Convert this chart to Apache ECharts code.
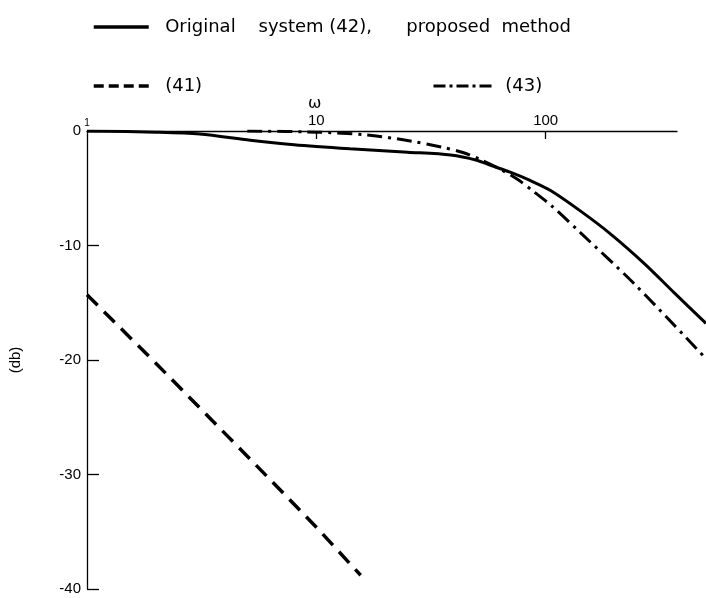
<!DOCTYPE html>
<html><head><meta charset="utf-8">
<script src="https://cdn.jsdelivr.net/npm/echarts@6/dist/echarts.min.js"></script>
<style>html,body{margin:0;padding:0;background:#fff}#c{width:706px;height:598px}</style>
</head><body><div id="c"></div>
<script>
// ---- data ----
const xTickValues = [1, 10, 100];
const xTickMarks = [10, 100];
const seriesNames = ['Original system (42), proposed method', '(41)', '(43)'];

const omegaOriginal = [1, 2, 3.1, 5.15, 8, 14, 25, 38.5, 50, 57.5, 70, 85, 105, 142, 192, 270, 362, 500];
const dbOriginal    = [0, -0.1, -0.26, -0.8, -1.2, -1.55, -1.85, -2.1, -2.55, -3.0, -3.6, -4.3, -5.2, -7.0, -9.0, -11.6, -14.1, -16.8];

const omega41 = [1, 2, 5, 10, 15.6];
const db41    = [-14.3, -20.3, -28.4, -34.6, -38.8];

const omega43 = [5, 10, 16.7, 25.7, 35, 43.9, 52, 61.5, 75, 88.8, 107, 142, 242, 485];
const db43    = [0, -0.1, -0.35, -0.87, -1.4, -1.9, -2.5, -3.2, -4.2, -5.3, -6.6, -8.9, -13.3, -19.6];

const pair = (xs, ys) => xs.map((x, i) => [x, ys[i]]);

const legendNameText = {};
legendNameText[seriesNames[0]] = '  Original    system (42),      proposed  method';
legendNameText[seriesNames[1]] = '  (41)';
legendNameText[seriesNames[2]] = ' (43)';

const black = '#000';
const tickFont = 'Liberation Sans';
const textFont = 'DejaVu Sans';
const legendBase = {
  padding: 0, itemHeight: 14, selectedMode: false,
  itemStyle: { opacity: 0, color: 'rgba(0,0,0,0)', borderColor: 'rgba(0,0,0,0)', borderWidth: 0 },
  formatter: n => legendNameText[n],
  textStyle: { color: black, fontSize: 18, fontFamily: textFont }
};

const chart = echarts.init(document.getElementById('c'), null, { renderer: 'canvas' });
chart.setOption({
  animation: false,
  backgroundColor: '#fff',
  title: {
    text: 'ω', left: 308, top: 96, padding: 0,
    textStyle: { color: black, fontSize: 16, fontWeight: 'normal', fontFamily: textFont }
  },
  legend: [
    Object.assign({}, legendBase, { data: [seriesNames[0]], left: 92, top: 18, itemWidth: 55,
      lineStyle: { width: 3.5 } }),
    Object.assign({}, legendBase, { data: [seriesNames[1]], left: 92, top: 77, itemWidth: 55,
      lineStyle: { type: [10, 5], width: 3.5 } }),
    Object.assign({}, legendBase, { data: [seriesNames[2]], left: 432, top: 77, itemWidth: 61,
      lineStyle: { type: [12, 4, 3, 4], width: 3 } })
  ],
  grid: [
    { left: 87, right: 0, top: 131, bottom: 9, containLabel: false },
    { left: 87, right: 29, top: 131, bottom: 9, containLabel: false }
  ],
  xAxis: [
    {
      gridIndex: 0, type: 'log', logBase: 10, min: 1, max: 500, position: 'top',
      axisLine: { show: false, onZero: false },
      axisTick: { show: true, inside: true, length: 8, customValues: xTickMarks,
        lineStyle: { color: black, width: 1.3 } },
      axisLabel: {
        customValues: xTickValues, margin: 3, color: black, fontFamily: tickFont, fontSize: 15,
        formatter: v => { const r = Math.round(v); return r === 1 ? '{s|1}' : String(r); },
        rich: { s: { fontSize: 10, fontFamily: tickFont, color: black } }
      },
      splitLine: { show: false }
    },
    {
      gridIndex: 1, type: 'log', logBase: 10, min: 1, max: 374, position: 'top',
      axisLine: { show: true, onZero: false, lineStyle: { color: black, width: 1.3 } },
      axisTick: { show: false }, axisLabel: { show: false }, splitLine: { show: false }
    }
  ],
  yAxis: [
    {
      gridIndex: 0, type: 'value', min: -40, max: 0, interval: 10,
      name: '(db)', nameLocation: 'middle', nameGap: 64,
      nameTextStyle: { color: black, fontSize: 15, fontFamily: tickFont },
      axisLine: { show: true, onZero: false, lineStyle: { color: black, width: 1.3 } },
      axisTick: { show: true, inside: true, length: 12, lineStyle: { color: black, width: 1.3 } },
      axisLabel: { margin: 6, color: black, fontFamily: tickFont, fontSize: 15 },
      splitLine: { show: false }
    },
    {
      gridIndex: 1, type: 'value', min: -40, max: 0, show: false
    }
  ],
  series: [
    { type: 'line', name: seriesNames[0], data: pair(omegaOriginal, dbOriginal), symbol: 'none',
      smooth: 0.3, lineStyle: { color: black, width: 3 }, itemStyle: { color: black } },
    { type: 'line', name: seriesNames[1], data: pair(omega41, db41), symbol: 'none',
      lineStyle: { color: black, width: 3.5, type: [15, 9] }, itemStyle: { color: black } },
    { type: 'line', name: seriesNames[2], data: pair(omega43, db43), symbol: 'none',
      smooth: 0.3, lineStyle: { color: black, width: 3, type: [15, 6, 3, 6] }, itemStyle: { color: black } }
  ]
});
</script>
</body></html>
